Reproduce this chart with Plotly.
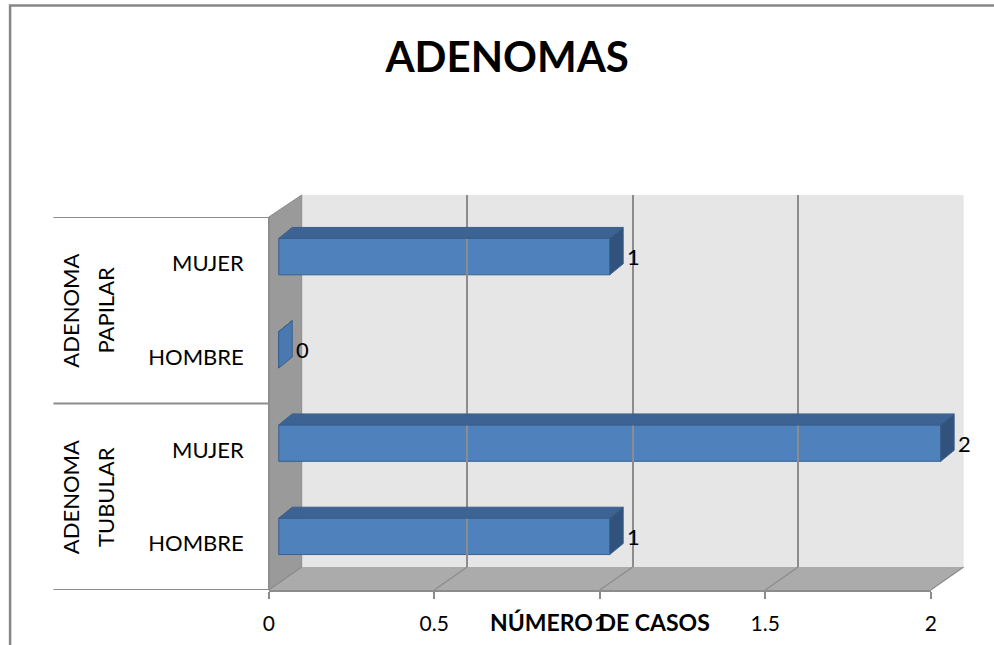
import plotly.graph_objects as go

# ---- data ----
groups = ["ADENOMA TUBULAR", "ADENOMA TUBULAR", "ADENOMA PAPILAR", "ADENOMA PAPILAR"]
sexes = ["HOMBRE", "MUJER", "HOMBRE", "MUJER"]
values = [1, 2, 0, 1]
x_ticks = [0, 0.5, 1, 1.5, 2]
x_tick_labels = ["0", "0.5", "1", "1.5", "2"]
title_text = "ADENOMAS"
x_title = "NÚMERO DE CASOS"

# ---- layout constants (pixels) ----
W, H = 994, 645
FONT = "Lato"
BLUE = "#4F81BD"
BLUE_EDGE = "#3A5F8B"
TOP_FACE = "#3C6393"
SIDE_FACE = "#30527C"
GRID = "#8C8C8C"
# horizontal calibration of the capture
CAL_S, CAL_O = 0.991, 4.4

# front frame (category axis / floor front edge)
FX0, FX1, FY_TOP, FY_BOT = 268, 932, 217, 590
# back wall
BX0, BX1, BY_TOP, BY_BOT = 301, 965, 195, 567
# bars plane (value 0 -> RX0, value max -> RX1)
RX0, RX1 = 278, 942
n = len(values)
slot = (FY_BOT - FY_TOP) / n
shift_y = 7
RY_TOP, RY_BOT = FY_TOP - shift_y, FY_BOT - shift_y

def px(x):
    return ((x - CAL_O) / CAL_S) / W

def py(y):
    return 1 - y / H

xmax = x_ticks[-1]
unit = (RX1 - RX0) / xmax
x_lo, x_hi = -0.03, xmax + 0.09
pos = list(range(n))
bar_w = 0.39
dx = 13.5 / unit          # depth offset in x data units
dy = 11 / slot            # depth offset in y data units

fig = go.Figure()

fig.add_trace(go.Bar(
    x=values, y=pos, orientation="h", width=bar_w,
    marker=dict(color=BLUE, line=dict(color=BLUE_EDGE, width=1)),
    hoverinfo="skip", showlegend=False, xaxis="x", yaxis="y",
))
fig.add_trace(go.Scatter(x=[], y=[], xaxis="x2", yaxis="y2", showlegend=False))
fig.add_trace(go.Scatter(x=[], y=[], xaxis="x3", yaxis="y3", showlegend=False))

shapes = []
# walls (frame background)
shapes.append(dict(type="rect", xref="paper", yref="paper", layer="below",
                   x0=px(BX0), x1=px(BX1), y0=py(BY_BOT), y1=py(BY_TOP),
                   fillcolor="#E6E6E6", line=dict(width=0)))
shapes.append(dict(type="path", xref="paper", yref="paper", layer="below",
                   path=f"M {px(FX0)},{py(FY_TOP)} L {px(BX0)},{py(BY_TOP)} L {px(BX0)},{py(BY_BOT)} L {px(FX0)},{py(FY_BOT)} Z",
                   fillcolor="#9A9A9A", line=dict(color=GRID, width=1)))
shapes.append(dict(type="path", xref="paper", yref="paper", layer="below",
                   path=f"M {px(FX0)},{py(FY_BOT)} L {px(BX0)},{py(BY_BOT)} L {px(BX1)},{py(BY_BOT)} L {px(FX1)},{py(FY_BOT)} Z",
                   fillcolor="#ABABAB", line=dict(width=0)))
# floor diagonal gridlines
for v in x_ticks:
    bxp = BX0 + (BX1 - BX0) * v / xmax
    fxp = FX0 + (FX1 - FX0) * v / xmax
    shapes.append(dict(type="line", xref="paper", yref="paper", layer="below",
                       x0=px(bxp), y0=py(BY_BOT), x1=px(fxp), y1=py(FY_BOT),
                       line=dict(color=GRID, width=1.3)))
# category separators
bounds = [-0.5]
for i in range(1, n):
    if groups[i] != groups[i - 1]:
        bounds.append(i - 0.5)
bounds.append(n - 0.5)
for b in bounds:
    shapes.append(dict(type="line", xref="paper", yref="y2",
                       x0=px(52), x1=px(FX0), y0=b, y1=b,
                       line=dict(color=GRID, width=2)))
shapes.append(dict(type="line", xref="paper", yref="y2",
                   x0=px(FX0), x1=px(FX0), y0=-0.5, y1=n - 0.5,
                   line=dict(color=GRID, width=1.5)))
# outer border
shapes.append(dict(type="rect", xref="paper", yref="paper",
                   x0=px(8.5), x1=px(W + 30), y0=py(H + 20), y1=py(5.5),
                   line=dict(color="#868686", width=2.5), fillcolor="rgba(0,0,0,0)"))

# 3D faces of bars
for i, v in zip(pos, values):
    yt = i + bar_w / 2
    yb = i - bar_w / 2
    shapes.append(dict(type="path", xref="x", yref="y",
                       path=f"M 0,{yt} L {dx},{yt + dy} L {v + dx},{yt + dy} L {v},{yt} Z",
                       fillcolor=TOP_FACE, line=dict(color=BLUE_EDGE, width=1)))
    shapes.append(dict(type="path", xref="x", yref="y",
                       path=f"M {v},{yb} L {v},{yt} L {v + dx},{yt + dy} L {v + dx},{yb + dy} Z",
                       fillcolor=SIDE_FACE if v > 0 else "#4A78B0",
                       line=dict(color=BLUE_EDGE, width=1)))

annotations = []
# data labels
for i, v in zip(pos, values):
    annotations.append(dict(x=v, y=i, xref="x", yref="y", text=str(v),
                            showarrow=False, xanchor="left", yanchor="middle",
                            xshift=15, font=dict(family=FONT, size=22, color="black")))
# group labels
seen = []
for g in groups:
    if g not in seen:
        seen.append(g)
for g in seen:
    idx = [i for i, gg in enumerate(groups) if gg == g]
    center = (idx[0] + idx[-1]) / 2
    words = g.split(" ")
    xs = [69, 104]
    for w_i, word in enumerate(words):
        annotations.append(dict(x=px(xs[w_i]), y=center, xref="paper", yref="y2",
                                text=word, textangle=-90, showarrow=False,
                                xanchor="center", yanchor="middle",
                                font=dict(family=FONT, size=22, color="black")))
# x axis title
annotations.append(dict(x=px((FX0 + FX1) / 2), y=py(622), xref="paper", yref="paper",
                        text=f"<b>{x_title}</b>", showarrow=False,
                        xanchor="center", yanchor="middle",
                        font=dict(family=FONT, size=23, color="black")))

fig.update_layout(
    width=W, height=H, autosize=False,
    margin=dict(l=0, r=0, t=0, b=0),
    paper_bgcolor="white", plot_bgcolor="rgba(0,0,0,0)",
    showlegend=False,
    title=dict(text=f"<b>{title_text}</b>", x=px(507), y=py(57),
               xanchor="center", yanchor="middle",
               font=dict(family=FONT, size=42, color="black")),
    font=dict(family=FONT, color="black"),
    xaxis=dict(domain=[px(RX0 + x_lo * unit), px(RX0 + x_hi * unit)],
               range=[x_lo, x_hi], visible=False, anchor="y"),
    yaxis=dict(domain=[py(RY_BOT), py(RY_TOP)], range=[-0.5, n - 0.5],
               visible=False, anchor="x"),
    xaxis2=dict(domain=[px(FX0), px(FX1)], range=[0, xmax], anchor="y2",
                tickvals=x_ticks, ticktext=x_tick_labels, ticks="outside",
                ticklen=7, tickcolor=GRID, tickwidth=1.5, ticklabelstandoff=7,
                showline=True, linecolor=GRID, linewidth=2, showgrid=False,
                zeroline=False, tickfont=dict(family=FONT, size=21, color="black")),
    yaxis2=dict(domain=[py(FY_BOT), py(FY_TOP)], range=[-0.5, n - 0.5], anchor="x2",
                tickvals=pos, ticktext=sexes, ticks="", showline=False,
                showgrid=False, zeroline=False, ticklabelstandoff=24,
                tickfont=dict(family=FONT, size=22, color="black")),
    xaxis3=dict(domain=[px(BX0), px(BX1)], range=[0, xmax], anchor="y3",
                tickvals=x_ticks, showticklabels=False, ticks="",
                showgrid=True, gridcolor=GRID, gridwidth=1.5, zeroline=False,
                showline=False),
    yaxis3=dict(domain=[py(BY_BOT), py(BY_TOP)], range=[0, 1], anchor="x3",
                visible=False, showgrid=False),
    shapes=shapes,
    annotations=annotations,
)

fig.write_html("out.html", config={"displayModeBar": False},
               post_script="document.body.style.margin='0';")
